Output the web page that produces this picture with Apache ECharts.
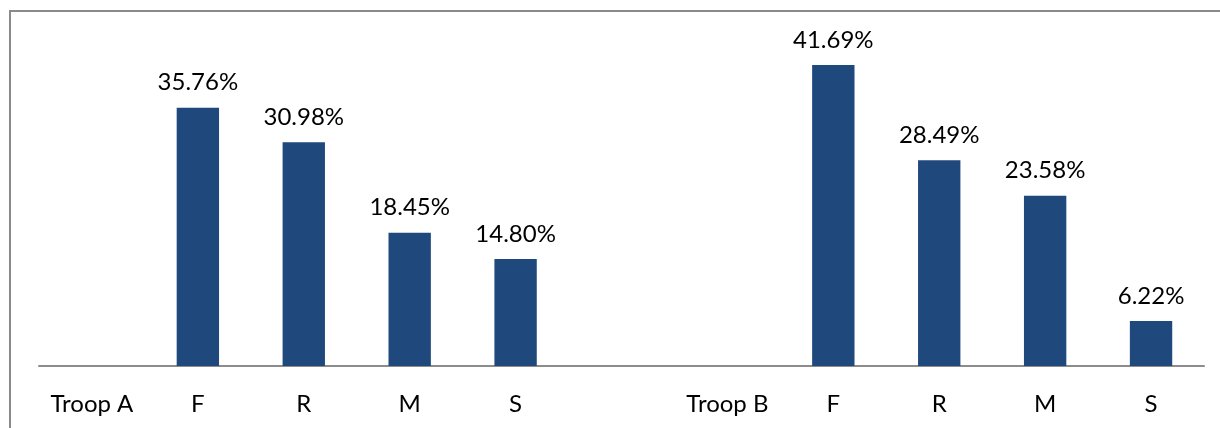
<!DOCTYPE html>
<html>
<head>
<meta charset="utf-8">
<script src="https://cdn.jsdelivr.net/npm/echarts@6/dist/echarts.min.js"></script>
<style>
  html, body { margin: 0; padding: 0; background: #ffffff; }
  #chart { width: 1220px; height: 428px; }
</style>
</head>
<body>
<div id="chart"></div>
<script>
// Category slots: group name, the four classes, a spacer, then the second group
const categories = ['Troop A', 'F', 'R', 'M', 'S', '', 'Troop B', 'F', 'R', 'M', 'S'];
// Percentages per slot (null where no bar is drawn)
const shares = [null, 35.76, 30.98, 18.45, 14.80, null, null, 41.69, 28.49, 23.58, 6.22];

const chart = echarts.init(document.getElementById('chart'));
chart.setOption({
  animation: false,
  backgroundColor: '#ffffff',
  graphic: [{
    type: 'rect',
    shape: { x: 10, y: 11, width: 1300, height: 500 },
    style: { fill: 'none', stroke: '#8a8a8a', lineWidth: 2 },
    silent: true
  }],
  grid: { left: 39, right: 16, top: 41, bottom: 62, containLabel: false },
  xAxis: {
    type: 'category',
    data: categories,
    axisLine: { lineStyle: { color: '#8c8c8c', width: 2 } },
    axisTick: { show: false },
    axisLabel: {
      interval: 0,
      margin: 26,
      color: '#000000',
      fontFamily: 'Lato, "Open Sans", sans-serif',
      fontSize: 24
    }
  },
  yAxis: {
    type: 'value',
    min: 0,
    max: 45,
    show: false,
    splitLine: { show: false }
  },
  series: [{
    type: 'bar',
    data: shares,
    barWidth: '40%',
    itemStyle: { color: '#1f497d' },
    label: {
      show: true,
      position: 'top',
      distance: 13,
      color: '#000000',
      fontFamily: 'Lato, "Open Sans", sans-serif',
      fontSize: 24,
      formatter: p => p.value == null ? '' : p.value.toFixed(2) + '%'
    }
  }]
});
</script>
</body>
</html>
